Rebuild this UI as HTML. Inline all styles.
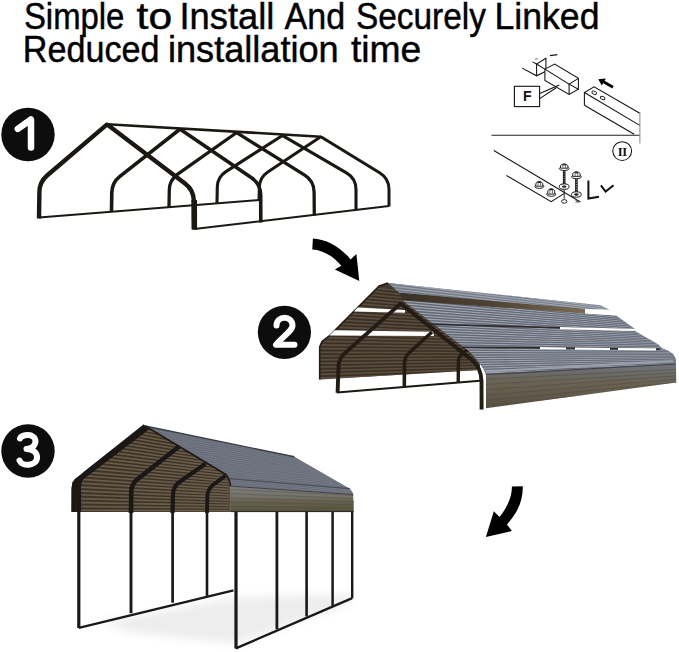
<!DOCTYPE html>
<html><head><meta charset="utf-8">
<style>
html,body{margin:0;padding:0;background:#fff;}
body{width:679px;height:652px;overflow:hidden;}
svg{display:block;}
.t{font-family:"Liberation Sans",sans-serif;font-size:37px;fill:#000;stroke:#000;stroke-width:0.45px;}
</style></head><body>
<svg width="679" height="652" viewBox="0 0 679 652">
<rect width="679" height="652" fill="#fff"/>
<!-- title -->
<text class="t" x="23.91" y="28.6" textLength="100.47" lengthAdjust="spacingAndGlyphs">Simple</text>
<text class="t" x="136.6" y="28.6" textLength="35.49" lengthAdjust="spacingAndGlyphs">to</text>
<text class="t" x="179.45" y="28.6" textLength="94.98" lengthAdjust="spacingAndGlyphs">Install</text>
<text class="t" x="284.6" y="28.6" textLength="60.6" lengthAdjust="spacingAndGlyphs">And</text>
<text class="t" x="356.0" y="28.6" textLength="129.86" lengthAdjust="spacingAndGlyphs">Securely</text>
<text class="t" x="494.51" y="28.6" textLength="104.94" lengthAdjust="spacingAndGlyphs">Linked</text>
<text class="t" x="22.83" y="62.1" textLength="136.72" lengthAdjust="spacingAndGlyphs">Reduced</text>
<text class="t" x="167.95" y="62.1" textLength="170.75" lengthAdjust="spacingAndGlyphs">installation</text>
<text class="t" x="350.9" y="62.1" textLength="70.41" lengthAdjust="spacingAndGlyphs">time</text>

<!-- number badges -->
<g id="badges">
<circle cx="28" cy="134.5" r="26.7" fill="#0d0d0d"/>
<path d="M17.8 128.8 L31 119.5 L31 147.5" fill="none" stroke="#fff" stroke-width="6.5" stroke-linecap="round" stroke-linejoin="round"/>
<circle cx="284.4" cy="332.3" r="26.6" fill="#0d0d0d"/>
<path d="M276.5 325.5 C276.5 315.5 292.5 315 292.5 325.5 C292.5 331 281 338 276 344.8 L294.5 344.8" fill="none" stroke="#fff" stroke-width="6" stroke-linecap="round" stroke-linejoin="round"/>
<circle cx="28" cy="451" r="26.7" fill="#0d0d0d"/>
<path d="M20 438.5 C21.5 434 35 433 35.5 441 C35.5 446 31 448.5 26.5 449 C33 449 37.5 452.5 37 458 C36.5 466 22 467 19.5 460.5" fill="none" stroke="#fff" stroke-width="6" stroke-linecap="round" stroke-linejoin="round"/>
</g>

<!-- arrows -->
<path d="M312.9 238.4 C325 239 340 246 350.5 259.4 L356.4 254 L359.3 281 L334.9 269.6 L341.3 265.8 C333 256 323 250 312.3 249.5 Z" fill="#000"/>
<path d="M511.9 486.6 L522.8 486.3 C523 502 517 513 507 524.4 L511.9 531 L485.9 537.1 L493.8 511.3 L499.5 517.1 C506 509 512 498 511.9 486.6 Z" fill="#000"/>

<defs><clipPath id="cb2"><path d="M379.2 286.0 L388.0 283.0 L585.0 309.0 L585.0 314.0 L480.0 330.0 L480.0 370.1 L319.7 379.4 L319.7 347.0 L322.0 341.5 L329.9 335.4 Z"/></clipPath><clipPath id="cr1"><path d="M388.0 283.0 L600.2 305.2 L609.4 309.7 L587.0 309.3 L399.1 292.5 Z"/></clipPath><clipPath id="cr2"><path d="M402.8 300.6 L616.0 315.6 L634.5 328.8 L633.0 330.0 L658.2 344.6 L662.0 348.3 L668.0 350.8 L673.0 354.0 L675.8 359.0 L676.0 364.5 L486.0 375.0 L484.0 370.0 L478.0 361.0 L470.0 352.0 Z"/></clipPath><clipPath id="ce2"><path d="M486.0 374.5 L676.0 364.0 L676.2 382.4 L486.0 408.3 Z"/></clipPath><clipPath id="cb3"><path d="M145.2 426.0 L226.2 474.7 L229.0 479.0 L230.6 486.0 L230.8 512.0 L71.5 512.0 L71.6 488.0 L72.5 482.5 L75.0 479.0 Z"/></clipPath><clipPath id="ct3"><path d="M145.2 426.0 L294.3 456.8 L349.8 488.7 L352.4 492.0 L353.2 494.5 L230.6 486.2 L229.0 479.0 L226.2 474.7 Z"/></clipPath><clipPath id="ce3"><path d="M230.6 486.2 L353.2 494.5 L353.4 511.9 L230.8 511.9 Z"/></clipPath></defs>
<g id="step1"><path d="M39 217.5 L259 200" stroke="#1b1814" stroke-width="2" fill="none"/>
<path d="M107 124.2 L320.8 136.7" stroke="#1b1814" stroke-width="2.6" fill="none"/>
<path d="M259.0 200.0 L259.3 187.5 Q259.5 177.5 267.8 172.0 L319.6 137.5 Q320.8 136.7 322.1 137.5 L379.6 172.8 Q389.0 178.5 389.0 189.5 L389.0 206.5" stroke="#1b1814" stroke-width="3.0" fill="none" stroke-linejoin="round"/>
<path d="M217.0 203.0 L217.3 187.0 Q217.5 177.0 225.9 171.6 L281.3 136.3 Q282.6 135.5 283.9 136.3 L346.5 172.9 Q356.0 178.5 356.0 189.5 L356.0 210.5" stroke="#1b1814" stroke-width="3.1" fill="none" stroke-linejoin="round"/>
<path d="M169.0 207.0 L169.3 190.0 Q169.5 180.0 177.7 174.2 L235.3 133.5 Q236.5 132.6 237.8 133.4 L304.7 175.2 Q314.0 181.0 314.1 192.0 L314.3 215.5" stroke="#1b1814" stroke-width="3.3" fill="none" stroke-linejoin="round"/>
<path d="M111.5 212.0 L111.8 192.5 Q112.0 182.5 119.9 176.3 L178.9 130.0 Q180.1 129.1 181.3 129.9 L251.5 177.8 Q260.6 184.0 260.7 195.0 L260.8 222.5" stroke="#1b1814" stroke-width="3.6" fill="none" stroke-linejoin="round"/>
<path d="M39.0 218.5 L39.4 192.0 Q39.5 182.0 47.1 175.5 L105.9 125.4 Q107.0 124.4 108.2 125.3 L185.0 183.4 Q193.8 190.0 193.9 201.0 L194.3 229.5" stroke="#1b1814" stroke-width="4.4" fill="none" stroke-linejoin="round"/>
<path d="M194.2 200 L194.3 229.5" stroke="#1b1814" stroke-width="5.6" fill="none"/>
<path d="M194.3 229 L389 206" stroke="#1b1814" stroke-width="2" fill="none"/></g>
<g id="step2"><path d="M379.2 286.0 L388.0 283.0 L585.0 309.0 L585.0 314.0 L480.0 330.0 L480.0 370.1 L319.7 379.4 L319.7 347.0 L322.0 341.5 L329.9 335.4 Z" fill="#44392c"/>
<g clip-path="url(#cb2)"><path d="M300.0 280.00 L975.0 354.0 M300.0 283.80 L975.0 354.0 M300.0 287.60 L975.0 354.0 M300.0 291.40 L975.0 354.0 M300.0 295.20 L975.0 354.0 M300.0 299.00 L975.0 354.0 M300.0 302.80 L975.0 354.0 M300.0 306.60 L975.0 354.0 M300.0 310.40 L975.0 354.0 M300.0 314.20 L975.0 354.0 M300.0 318.00 L975.0 354.0 M300.0 321.80 L975.0 354.0 M300.0 325.60 L975.0 354.0 M300.0 329.40 L975.0 354.0 M300.0 333.20 L975.0 354.0 M300.0 337.00 L975.0 354.0 M300.0 340.80 L975.0 354.0 M300.0 344.60 L975.0 354.0 M300.0 348.40 L975.0 354.0 M300.0 352.20 L975.0 354.0 M300.0 356.00 L975.0 354.0 M300.0 359.80 L975.0 354.0 M300.0 363.60 L975.0 354.0 M300.0 367.40 L975.0 354.0 M300.0 371.20 L975.0 354.0 M300.0 375.00 L975.0 354.0 M300.0 378.80 L975.0 354.0 M300.0 382.60 L975.0 354.0" stroke="#5d5141" stroke-width="1.6" opacity="0.85" fill="none"/><path d="M300.0 282.00 L975.0 354.0 M300.0 285.80 L975.0 354.0 M300.0 289.60 L975.0 354.0 M300.0 293.40 L975.0 354.0 M300.0 297.20 L975.0 354.0 M300.0 301.00 L975.0 354.0 M300.0 304.80 L975.0 354.0 M300.0 308.60 L975.0 354.0 M300.0 312.40 L975.0 354.0 M300.0 316.20 L975.0 354.0 M300.0 320.00 L975.0 354.0 M300.0 323.80 L975.0 354.0 M300.0 327.60 L975.0 354.0 M300.0 331.40 L975.0 354.0 M300.0 335.20 L975.0 354.0 M300.0 339.00 L975.0 354.0 M300.0 342.80 L975.0 354.0 M300.0 346.60 L975.0 354.0 M300.0 350.40 L975.0 354.0 M300.0 354.20 L975.0 354.0 M300.0 358.00 L975.0 354.0 M300.0 361.80 L975.0 354.0 M300.0 365.60 L975.0 354.0 M300.0 369.40 L975.0 354.0 M300.0 373.20 L975.0 354.0 M300.0 377.00 L975.0 354.0 M300.0 380.80 L975.0 354.0 M300.0 384.60 L975.0 354.0" stroke="#2e251b" stroke-width="1.0" opacity="0.55" fill="none"/></g>
<path d="M388 283 L379.2 286 L329.9 335.4 L322 341.5 L319.7 347 L319.7 379.4" stroke="#241d15" stroke-width="1.6" fill="none"/>
<path d="M357.6 307.6 L405.0 310.0 L405.0 312.7 L354.0 311.4 Z" fill="#fff"/>
<path d="M334.6 330.3 L433.0 331.8 L434.0 336.0 L329.4 335.6 Z" fill="#fff"/>
<path d="M337 392.5 L483 380.6" stroke="#1b1814" stroke-width="2" fill="none"/>
<path d="M404.3 387.0 L404.5 363.0 Q404.6 357.0 409.0 353.0 L432.0 332.0" stroke="#221c15" stroke-width="3.6" fill="none"/>
<path d="M458.2 382.5 L458.4 362.0 Q458.4 357.0 462.2 353.8 L468.0 349.0" stroke="#221c15" stroke-width="3.4" fill="none"/>
<defs><linearGradient id="gtan" x1="399" y1="0" x2="585" y2="0" gradientUnits="userSpaceOnUse"><stop offset="0" stop-color="#3c3126"/><stop offset="0.5" stop-color="#4f4233"/><stop offset="1" stop-color="#7a6a52"/></linearGradient></defs>
<path d="M399.1 292.5 L585.0 309.3 L585.0 313.5 L402.8 300.6 Z" fill="url(#gtan)"/>
<path d="M388.0 283.0 L600.2 305.2 L609.4 309.7 L587.0 309.3 L399.1 292.5 Z" fill="#737a87"/>
<g clip-path="url(#cr1)"><path d="M380.0 276.00 L975.0 354.0 M380.0 278.90 L975.0 354.0 M380.0 281.80 L975.0 354.0 M380.0 284.70 L975.0 354.0 M380.0 287.60 L975.0 354.0 M380.0 290.50 L975.0 354.0 M380.0 293.40 L975.0 354.0 M380.0 296.30 L975.0 354.0 M380.0 299.20 L975.0 354.0" stroke="#a2a8b3" stroke-width="1.2" opacity="0.9" fill="none"/></g>
<path d="M402.8 300.6 L616.0 315.6 L634.5 328.8 L633.0 330.0 L658.2 344.6 L662.0 348.3 L668.0 350.8 L673.0 354.0 L675.8 359.0 L676.0 364.5 L486.0 375.0 L484.0 370.0 L478.0 361.0 L470.0 352.0 Z" fill="#737a87"/>
<g clip-path="url(#cr2)"><path d="M380.0 290.00 L975.0 354.0 M380.0 292.90 L975.0 354.0 M380.0 295.80 L975.0 354.0 M380.0 298.70 L975.0 354.0 M380.0 301.60 L975.0 354.0 M380.0 304.50 L975.0 354.0 M380.0 307.40 L975.0 354.0 M380.0 310.30 L975.0 354.0 M380.0 313.20 L975.0 354.0 M380.0 316.10 L975.0 354.0 M380.0 319.00 L975.0 354.0 M380.0 321.90 L975.0 354.0 M380.0 324.80 L975.0 354.0 M380.0 327.70 L975.0 354.0 M380.0 330.60 L975.0 354.0 M380.0 333.50 L975.0 354.0 M380.0 336.40 L975.0 354.0 M380.0 339.30 L975.0 354.0 M380.0 342.20 L975.0 354.0 M380.0 345.10 L975.0 354.0 M380.0 348.00 L975.0 354.0 M380.0 350.90 L975.0 354.0 M380.0 353.80 L975.0 354.0 M380.0 356.70 L975.0 354.0 M380.0 359.60 L975.0 354.0 M380.0 362.50 L975.0 354.0 M380.0 365.40 L975.0 354.0 M380.0 368.30 L975.0 354.0 M380.0 371.20 L975.0 354.0 M380.0 374.10 L975.0 354.0 M380.0 377.00 L975.0 354.0 M380.0 379.90 L975.0 354.0" stroke="#a2a8b3" stroke-width="1.2" opacity="0.9" fill="none"/><path d="M380.0 291.40 L975.0 354.0 M380.0 294.30 L975.0 354.0 M380.0 297.20 L975.0 354.0 M380.0 300.10 L975.0 354.0 M380.0 303.00 L975.0 354.0 M380.0 305.90 L975.0 354.0 M380.0 308.80 L975.0 354.0 M380.0 311.70 L975.0 354.0 M380.0 314.60 L975.0 354.0 M380.0 317.50 L975.0 354.0 M380.0 320.40 L975.0 354.0 M380.0 323.30 L975.0 354.0 M380.0 326.20 L975.0 354.0 M380.0 329.10 L975.0 354.0 M380.0 332.00 L975.0 354.0 M380.0 334.90 L975.0 354.0 M380.0 337.80 L975.0 354.0 M380.0 340.70 L975.0 354.0 M380.0 343.60 L975.0 354.0 M380.0 346.50 L975.0 354.0 M380.0 349.40 L975.0 354.0 M380.0 352.30 L975.0 354.0 M380.0 355.20 L975.0 354.0 M380.0 358.10 L975.0 354.0 M380.0 361.00 L975.0 354.0 M380.0 363.90 L975.0 354.0 M380.0 366.80 L975.0 354.0 M380.0 369.70 L975.0 354.0 M380.0 372.60 L975.0 354.0 M380.0 375.50 L975.0 354.0 M380.0 378.40 L975.0 354.0" stroke="#555b67" stroke-width="0.8" opacity="0.8" fill="none"/></g>
<path d="M430 324.2 L560 327.8 L634 329.6" stroke="#2b2b2e" stroke-width="1.6" fill="none"/>
<path d="M560 328.2 L634 329.8" stroke="#fff" stroke-width="2.2" fill="none"/>
<path d="M462 347.2 L537 347.8 L660 349.2" stroke="#2b2b2e" stroke-width="1.6" fill="none"/>
<path d="M540 348.2 L566 348.5 M575 348.6 L610 349 M618 349 L656 349.4" stroke="#fff" stroke-width="2.2" fill="none"/>
<path d="M585.0 309.3 L609.4 309.7 L616.0 315.6 L585.0 313.5 Z" fill="#fff"/>
<defs><linearGradient id="ge2" x1="0" y1="0" x2="0" y2="1"><stop offset="0" stop-color="#6f747b"/><stop offset="0.3" stop-color="#6a675e"/><stop offset="0.5" stop-color="#686050"/><stop offset="1" stop-color="#575043"/></linearGradient></defs>
<path d="M486.0 374.5 L676.0 364.0 L676.2 382.4 L486.0 408.3 Z" fill="url(#ge2)"/>
<g clip-path="url(#ce2)"><path d="M470.0 380.00 L975.0 354.0 M470.0 385.50 L975.0 354.0 M470.0 391.00 L975.0 354.0 M470.0 396.50 L975.0 354.0 M470.0 402.00 L975.0 354.0 M470.0 407.50 L975.0 354.0 M470.0 413.00 L975.0 354.0 M470.0 418.50 L975.0 354.0" stroke="#4e493f" stroke-width="0.8" opacity="0.6" fill="none"/></g>
<path d="M486 374.5 L676 364" stroke="#3e4149" stroke-width="1.2"/>
<path d="M486 371.5 L673 361" stroke="#a3a9b3" stroke-width="2" opacity="0.8"/>
<path d="M337.6 392.8 L338.5 366.6 Q338.8 358.6 344.8 353.3 L399.5 304.6 Q400.6 303.6 401.8 304.5 L470.5 358.8 Q481.5 367.5 481.5 381.5 L481.6 409.6" stroke="#221c15" stroke-width="3.9" fill="none" stroke-linejoin="round"/></g>
<g id="step3"><defs><filter id="blur3" x="-20%" y="-50%" width="140%" height="200%"><feGaussianBlur stdDeviation="4"/></filter></defs>
<path d="M100.0 622.0 L200.0 604.0 L236.0 598.0 L352.0 594.0 L352.0 602.0 L290.0 625.0 L239.0 643.0 L200.0 640.0 L130.0 632.0 Z" fill="#ededed" filter="url(#blur3)"/>
<path d="M78.8 627.9 L233.5 590.4" stroke="#1a1816" stroke-width="2.4" fill="none"/>
<path d="M235.8 648.4 L352.2 598.2" stroke="#1a1816" stroke-width="2.4" fill="none"/>
<path d="M276.9 500 L276.9 629.2" stroke="#1a1816" stroke-width="2.8" fill="none"/>
<path d="M306.6 500 L306.6 616.4" stroke="#1a1816" stroke-width="2.6" fill="none"/>
<path d="M332.6 500 L332.6 606" stroke="#1a1816" stroke-width="2.5" fill="none"/>
<path d="M352.2 500 L352.2 598.2" stroke="#1a1816" stroke-width="2.4" fill="none"/>
<defs><linearGradient id="gb3" x1="0" y1="0" x2="0" y2="1"><stop offset="0" stop-color="#3a2f23"/><stop offset="0.4" stop-color="#3c3226"/><stop offset="0.75" stop-color="#3e3429"/><stop offset="1" stop-color="#3e3429"/></linearGradient></defs>
<path d="M145.2 426.0 L226.2 474.7 L229.0 479.0 L230.6 486.0 L230.8 512.0 L71.5 512.0 L71.6 488.0 L72.5 482.5 L75.0 479.0 Z" fill="url(#gb3)"/>
<g clip-path="url(#cb3)"><path d="M40.0 380.00 L553.7 511.4 M40.0 384.20 L553.7 511.4 M40.0 388.40 L553.7 511.4 M40.0 392.60 L553.7 511.4 M40.0 396.80 L553.7 511.4 M40.0 401.00 L553.7 511.4 M40.0 405.20 L553.7 511.4 M40.0 409.40 L553.7 511.4 M40.0 413.60 L553.7 511.4 M40.0 417.80 L553.7 511.4 M40.0 422.00 L553.7 511.4 M40.0 426.20 L553.7 511.4 M40.0 430.40 L553.7 511.4 M40.0 434.60 L553.7 511.4 M40.0 438.80 L553.7 511.4 M40.0 443.00 L553.7 511.4 M40.0 447.20 L553.7 511.4 M40.0 451.40 L553.7 511.4 M40.0 455.60 L553.7 511.4 M40.0 459.80 L553.7 511.4 M40.0 464.00 L553.7 511.4 M40.0 468.20 L553.7 511.4 M40.0 472.40 L553.7 511.4 M40.0 476.60 L553.7 511.4 M40.0 480.80 L553.7 511.4 M40.0 485.00 L553.7 511.4 M40.0 489.20 L553.7 511.4 M40.0 493.40 L553.7 511.4 M40.0 497.60 L553.7 511.4 M40.0 501.80 L553.7 511.4 M40.0 506.00 L553.7 511.4 M40.0 510.20 L553.7 511.4 M40.0 514.40 L553.7 511.4 M40.0 518.60 L553.7 511.4" stroke="#6e614d" stroke-width="1.7" opacity="0.9" fill="none"/></g>
<path d="M71.5 513 L72 486 Q72.5 481 76 478.5 L145.2 426" stroke="#1d1711" stroke-width="10" fill="none" stroke-linejoin="round" clip-path="url(#cb3)"/>
<path d="M145.2 426.0 L294.3 456.8 L349.8 488.7 L352.4 492.0 L353.2 494.5 L230.6 486.2 L229.0 479.0 L226.2 474.7 Z" fill="#666b77"/>
<g clip-path="url(#ct3)"><path d="M100.0 380.00 L700.0 520.0 M100.0 382.60 L700.0 520.0 M100.0 385.20 L700.0 520.0 M100.0 387.80 L700.0 520.0 M100.0 390.40 L700.0 520.0 M100.0 393.00 L700.0 520.0 M100.0 395.60 L700.0 520.0 M100.0 398.20 L700.0 520.0 M100.0 400.80 L700.0 520.0 M100.0 403.40 L700.0 520.0 M100.0 406.00 L700.0 520.0 M100.0 408.60 L700.0 520.0 M100.0 411.20 L700.0 520.0 M100.0 413.80 L700.0 520.0 M100.0 416.40 L700.0 520.0 M100.0 419.00 L700.0 520.0 M100.0 421.60 L700.0 520.0 M100.0 424.20 L700.0 520.0 M100.0 426.80 L700.0 520.0 M100.0 429.40 L700.0 520.0 M100.0 432.00 L700.0 520.0 M100.0 434.60 L700.0 520.0 M100.0 437.20 L700.0 520.0 M100.0 439.80 L700.0 520.0 M100.0 442.40 L700.0 520.0 M100.0 445.00 L700.0 520.0 M100.0 447.60 L700.0 520.0 M100.0 450.20 L700.0 520.0 M100.0 452.80 L700.0 520.0 M100.0 455.40 L700.0 520.0 M100.0 458.00 L700.0 520.0 M100.0 460.60 L700.0 520.0 M100.0 463.20 L700.0 520.0 M100.0 465.80 L700.0 520.0 M100.0 468.40 L700.0 520.0 M100.0 471.00 L700.0 520.0 M100.0 473.60 L700.0 520.0 M100.0 476.20 L700.0 520.0 M100.0 478.80 L700.0 520.0 M100.0 481.40 L700.0 520.0 M100.0 484.00 L700.0 520.0 M100.0 486.60 L700.0 520.0 M100.0 489.20 L700.0 520.0 M100.0 491.80 L700.0 520.0 M100.0 494.40 L700.0 520.0 M100.0 497.00 L700.0 520.0 M100.0 499.60 L700.0 520.0 M100.0 502.20 L700.0 520.0 M100.0 504.80 L700.0 520.0 M100.0 507.40 L700.0 520.0 M100.0 510.00 L700.0 520.0 M100.0 512.60 L700.0 520.0 M100.0 515.20 L700.0 520.0 M100.0 517.80 L700.0 520.0" stroke="#7c818d" stroke-width="1.0" opacity="0.7" fill="none"/></g>
<path d="M145.2 426 L294.3 456.8" stroke="#3a3e46" stroke-width="1.4" fill="none"/>
<path d="M229 478.6 L350 488.6" stroke="#474b54" stroke-width="1.1" fill="none" opacity="0.9"/>
<path d="M145.2 426 L226.2 474.7 Q229.4 478.6 230.6 486.2" stroke="#1f1a15" stroke-width="1.6" fill="none"/>
<defs><linearGradient id="ge3" x1="0" y1="0" x2="0" y2="1"><stop offset="0" stop-color="#7e7f80"/><stop offset="0.4" stop-color="#75736b"/><stop offset="0.6" stop-color="#67624f"/><stop offset="1" stop-color="#58533f"/></linearGradient></defs>
<path d="M230.6 486.2 L353.2 494.5 L353.4 511.9 L230.8 511.9 Z" fill="url(#ge3)"/>
<path d="M230.6 486.2 L353.2 494.5" stroke="#3d4048" stroke-width="1" fill="none"/>
<g clip-path="url(#ce3)"><path d="M200.0 488.00 L700.0 512.0 M200.0 492.50 L700.0 512.0 M200.0 497.00 L700.0 512.0 M200.0 501.50 L700.0 512.0 M200.0 506.00 L700.0 512.0 M200.0 510.50 L700.0 512.0 M200.0 515.00 L700.0 512.0 M200.0 519.50 L700.0 512.0" stroke="#4b473c" stroke-width="0.8" opacity="0.5" fill="none"/></g>
<path d="M230.8 511.6 L353.4 511.6" stroke="#2a2720" stroke-width="1" fill="none"/>
<path d="M131.0 513.0 L131.3 492.0 Q131.4 484.0 137.7 479.0 L179.0 446.5" stroke="#1a1816" stroke-width="4.6" fill="none"/>
<path d="M172.5 513.0 L173.0 494.3 Q173.2 486.3 179.8 481.7 L205.5 463.7" stroke="#1a1816" stroke-width="4.2" fill="none"/>
<path d="M207.0 513.0 L207.3 497.0 Q207.4 489.0 213.8 484.2 L225.4 475.7" stroke="#1a1816" stroke-width="3.8" fill="none"/>
<path d="M131 508 L131 613.2" stroke="#1a1816" stroke-width="2.9" fill="none"/>
<path d="M172.6 508 L172.6 602.7" stroke="#1a1816" stroke-width="2.7" fill="none"/>
<path d="M207 508 L207 595.9" stroke="#1a1816" stroke-width="2.6" fill="none"/>
<path d="M78.8 512.0 L78.7 488.0 Q78.6 479.0 85.6 473.4 L145.2 426.0" stroke="#1a1816" stroke-width="4.6" fill="none" stroke-linejoin="round"/>
<path d="M78.8 505 L78.8 628 M236 512 L236 648.4" stroke="#1a1816" stroke-width="3.2" fill="none"/></g>
<g id="diagram"><path d="M522.2 68.1 L536.6 75.8 L544.9 71.7" stroke="#111" fill="none" stroke-width="1.05"/>
<path d="M536.6 75.8 L536.6 64 L545.9 58.3 L545.9 69" stroke="#111" fill="none" stroke-width="1.05"/>
<path d="M532.5 61.9 L536.6 64" stroke="#111" fill="none" stroke-width="1.05"/>
<path d="M536.6 64 L544.9 69.1" stroke="#111" fill="none" stroke-width="1.05"/>
<path d="M550 55.6 L557.3 54.7" stroke="#111" stroke-width="1.2"/>
<path d="M535 59.3 L538 58.6" stroke="#555" stroke-width="0.8"/>
<path d="M544.9 69.1 L554.7 64 L578.4 78.4 L578.4 89.2 L569.1 94.4 L544.9 80.5 Z" fill="#fff" stroke="#111" stroke-width="1.05"/>
<path d="M544.9 69.1 L569.1 84.1 L578.4 78.4" stroke="#111" fill="none" stroke-width="1.05"/>
<path d="M569.1 84.1 L569.1 94.4" stroke="#111" fill="none" stroke-width="1.05"/>
<path d="M569.1 84.1 L578.4 89.2" stroke="#111" fill="none" stroke-width="1.05"/>
<rect x="514.4" y="86.3" width="25.2" height="20.3" fill="#fff" stroke="#111" stroke-width="1.1"/>
<text x="527.2" y="101.2" text-anchor="middle" font-family="Liberation Sans,sans-serif" font-weight="bold" font-size="14" fill="#111">F</text>
<path d="M539.7 93.4 L559.3 85.1" stroke="#111" fill="none" stroke-width="1.05"/>
<path d="M539.7 98.6 L556.2 87.7" stroke="#111" fill="none" stroke-width="1.05"/>
<path d="M584.4 92.5 L594.1 86.9 L639.8 113.3 L639.8 125.4 L634.2 134.2 L584.4 105.3 Z" fill="#fff" stroke="none"/>
<path d="M584.4 105.3 L584.4 92.5 L594.1 86.9 L639.8 113.3" stroke="#111" fill="none" stroke-width="1.05"/>
<path d="M584.4 92.5 L639.8 125.4" stroke="#111" fill="none" stroke-width="1.05"/>
<path d="M584.4 105.3 L634.2 134.2" stroke="#111" fill="none" stroke-width="1.05"/>
<ellipse cx="594.2" cy="92.7" rx="2.4" ry="1.5" transform="rotate(25 594.2 92.7)" fill="none" stroke="#111" stroke-width="0.9"/>
<ellipse cx="602.7" cy="98" rx="2.4" ry="1.5" transform="rotate(25 602.7 98)" fill="none" stroke="#111" stroke-width="0.9"/>
<path d="M613 87.2 L603.5 81.8" stroke="#000" stroke-width="2.8"/>
<path d="M598.3 79.3 L605.8 78.6 L601.8 85.4 Z" fill="#000"/>
<path d="M491.5 135.2 L639.8 135.2" stroke="#222" stroke-width="1.1"/>
<path d="M639.9 112 L639.9 143.5" stroke="#888" stroke-width="1"/>
<circle cx="622.2" cy="151.1" r="9.4" fill="none" stroke="#111" stroke-width="1.05"/>
<text x="622.3" y="155.6" text-anchor="middle" font-family="Liberation Serif,serif" font-weight="bold" font-size="12.5" fill="#111" letter-spacing="-0.3">II</text>
<path d="M493.8 150.5 L580.4 202" stroke="#111" fill="none" stroke-width="1.05"/>
<path d="M506.3 175.4 L551.2 201.6 L564 193.6" stroke="#111" fill="none" stroke-width="1.05"/>
<ellipse cx="539.3" cy="186.39999999999998" rx="4.6" ry="2" fill="#fff" stroke="#111" stroke-width="0.9"/>
<path d="M535.6999999999999 186.2 L535.9 183.3 Q539.3 179.70000000000002 542.6999999999999 183.3 L542.9 186.2 Z" fill="#fff" stroke="#111" stroke-width="0.9"/>
<path d="M538.0 181.9 L538.0 185.7 M540.5999999999999 181.9 L540.5999999999999 185.7" stroke="#333" stroke-width="0.7"/>
<ellipse cx="539.3" cy="182.10000000000002" rx="1.8" ry="0.9" fill="#222"/>
<ellipse cx="551.2" cy="194.29999999999998" rx="4.6" ry="2" fill="#fff" stroke="#111" stroke-width="0.9"/>
<path d="M547.6 194.1 L547.8000000000001 190.6 Q551.2 187.0 554.6 190.6 L554.8000000000001 194.1 Z" fill="#fff" stroke="#111" stroke-width="0.9"/>
<path d="M549.9000000000001 189.2 L549.9000000000001 193.6 M552.5 189.2 L552.5 193.6" stroke="#333" stroke-width="0.7"/>
<ellipse cx="551.2" cy="189.4" rx="1.8" ry="0.9" fill="#222"/>
<path d="M564.2 170.2 L564.2 184.6" stroke="#111" stroke-width="2.6"/>
<path d="M564.2 171.2 L564.2 183.6" stroke="#fff" stroke-width="0.7" stroke-dasharray="1 1.3"/>
<ellipse cx="564.2" cy="186.6" rx="4.9" ry="2.7" fill="#fff" stroke="#111" stroke-width="1"/>
<ellipse cx="564.2" cy="186.6" rx="2.3" ry="1.2" fill="#222"/>
<ellipse cx="564.2" cy="168.6" rx="5" ry="1.9" fill="#fff" stroke="#111" stroke-width="0.9"/>
<path d="M560.5 168.2 L560.5 165.6 Q564.2 162.2 567.9000000000001 165.6 L567.9000000000001 168.2 Z" fill="#fff" stroke="#111" stroke-width="0.9"/>
<path d="M562.9000000000001 164.3 L562.9000000000001 167.89999999999998 M565.5 164.3 L565.5 167.89999999999998" stroke="#333" stroke-width="0.7"/>
<ellipse cx="564.2" cy="164.6" rx="2" ry="0.9" fill="#333"/>
<path d="M576.4 178.4 L576.4 192.6" stroke="#111" stroke-width="2.6"/>
<path d="M576.4 179.4 L576.4 191.6" stroke="#fff" stroke-width="0.7" stroke-dasharray="1 1.3"/>
<ellipse cx="576.4" cy="194.5" rx="4.9" ry="2.7" fill="#fff" stroke="#111" stroke-width="1"/>
<ellipse cx="576.4" cy="194.5" rx="2.3" ry="1.2" fill="#222"/>
<ellipse cx="576.4" cy="176.8" rx="5" ry="1.9" fill="#fff" stroke="#111" stroke-width="0.9"/>
<path d="M572.6999999999999 176.4 L572.6999999999999 173.5 Q576.4 170.1 580.1 173.5 L580.1 176.4 Z" fill="#fff" stroke="#111" stroke-width="0.9"/>
<path d="M575.1 172.20000000000002 L575.1 176.1 M577.6999999999999 172.20000000000002 L577.6999999999999 176.1" stroke="#333" stroke-width="0.7"/>
<ellipse cx="576.4" cy="172.5" rx="2" ry="0.9" fill="#333"/>
<path d="M564.2 189.5 L564.2 198.8" stroke="#111" stroke-width="0.9"/>
<ellipse cx="564.2" cy="201.4" rx="2.7" ry="1.8" fill="#fff" stroke="#111" stroke-width="0.9"/>
<path d="M575.5 200 L578.5 203 M578.5 200 L575.5 203" stroke="#111" stroke-width="0.7"/>
<path d="M588.4 180.6 L588.4 198.6 L599 196.8" stroke="#111" stroke-width="2" fill="none"/>
<path d="M600.9 185.3 L605.6 191.6 L613.6 185.3" stroke="#111" stroke-width="2" fill="none"/></g>
</svg>
</body></html>
